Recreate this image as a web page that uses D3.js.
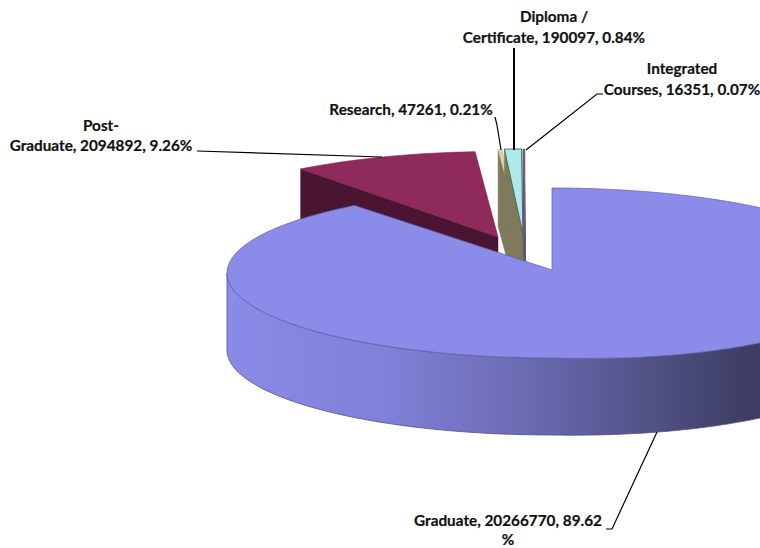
<!DOCTYPE html>
<html><head><meta charset="utf-8">
<script src="https://cdn.jsdelivr.net/npm/d3@7/dist/d3.min.js"></script>
<style>html,body{margin:0;padding:0;background:#fff}svg{display:block}text{font-family:Lato,"Open Sans",sans-serif;font-weight:700;font-size:15.3px;fill:#111;stroke:#111;stroke-width:0.2px}</style>
</head><body><svg id="c" width="760" height="548" viewBox="0 0 760 548"></svg>
<script>
const categories = ["Graduate","Post-Graduate","Research","Diploma / Certificate","Integrated Courses"];
const values = [20266770,2094892,47261,190097,16351];
const percents = ["89.62","9.26","0.21","0.84","0.07"];
const topColors = ["#8b8be9","#8e2a5c","#d9d2ac","#aee9e9","#6b6480"];
const wallColors = ["#6d6db8","#4a1530","#7e7a5b","#7e7a5b","#5f5870"];

const svg = d3.select("#c");
const rx = 325, ry = 85, depth = 77;
const pie = d3.pie().sort(null).value(d=>d).startAngle(0).endAngle(2*Math.PI);
const arcs = pie(values);
// layout: ellipse centre of each exploded slice and its apex
const centres = [{x:552,y:273,ay:270},{x:498,y:236.5,ay:237},{x:521,y:234,ay:234},{x:523,y:234,ay:234},{x:525,y:234,ay:234}];
// slight perspective swell of the near right quadrant of the main slice
const swell = (i,a,z)=> (i===0 && a>Math.PI/2 && a<Math.PI) ? 9*Math.sin(a)*(-Math.cos(a))*(z?0.6:1) : 0;
const P = (i,a,z=0)=>[centres[i].x+rx*Math.sin(a), centres[i].y-ry*Math.cos(a)+z+swell(i,a,z)];
const apex = (i,z=0)=>[centres[i].x, centres[i].ay+z];
const line = d3.line();
const arcPts = (i,a0,a1,z=0)=>{const n=Math.max(2,Math.ceil(Math.abs(a1-a0)*60));
  return d3.range(n+1).map(k=>P(i,a0+(a1-a0)*k/n,z));};

const defs = svg.append("defs");
const g = defs.append("linearGradient").attr("id","wall").attr("gradientUnits","userSpaceOnUse")
  .attr("x1",227).attr("x2",760).attr("y1",0).attr("y2",0);
[[0,"#8a8ae8"],[0.3,"#8080d8"],[0.55,"#6c6cb4"],[0.75,"#56568f"],[0.97,"#3e3e64"],[1,"#3e3e64"]]
  .forEach(([o,c])=>g.append("stop").attr("offset",o).attr("stop-color",c));

// exploded small slices, back to front
[1,2,3,4].forEach(i=>{
  const s=arcs[i];
  const wall=[P(i,s.startAngle),P(i,s.startAngle,depth),apex(i,depth),apex(i)];
  svg.append("path").attr("d",line(wall)+"Z").attr("fill",wallColors[i]).attr("stroke",wallColors[i]).attr("stroke-width",i==4?2:0.5);
  const top=[apex(i),...arcPts(i,s.startAngle,s.endAngle)];
  svg.append("path").attr("d",line(top)+"Z").attr("fill",topColors[i])
    .attr("stroke",i==3?"#3f5f58":i==1?"#7a2450":topColors[i]).attr("stroke-width",i==3?0.9:0.6);
});

// main slice
const m=arcs[0];
const wallPts=[...arcPts(0,Math.PI/2,3*Math.PI/2),...arcPts(0,3*Math.PI/2,Math.PI/2,depth)];
svg.append("path").attr("d",line(wallPts)+"Z").attr("fill","url(#wall)").attr("stroke","#50508a").attr("stroke-width",0.8);
svg.append("path").attr("d",line([apex(0),...arcPts(0,m.startAngle,m.endAngle)])+"Z")
  .attr("fill",topColors[0]).attr("stroke","#5f5fa6").attr("stroke-width",0.7);

// leader lines
const leaders=[
 [[606,529],[612,529],[657,432]],
 [[197,151],[382,157]],
 [[495,117],[497,125],[501,150]],
 [[514,48],[514,150]],
 [[603,94],[597,94],[526,150]]];
leaders.forEach((l,i)=>svg.append("path").attr("d",line(l)).attr("fill","none").attr("stroke","#000").attr("stroke-width",i==3?2:1.2));

// labels
const labelLines=[
 [`${categories[0]}, ${values[0]}, ${percents[0]}`,"%"],
 ["Post-",`Graduate, ${values[1]}, ${percents[1]}%`],
 [`${categories[2]}, ${values[2]}, ${percents[2]}%`],
 ["Diploma /",`Certificate, ${values[3]}, ${percents[3]}%`],
 ["Integrated",`Courses, ${values[4]}, ${percents[4]}%`]];
const labelPos=[[508,526,18.5],[101,131,20],[411,115,21],[554,22,21],[682,74,21]];
labelLines.forEach((ls,i)=>ls.forEach((t,k)=>svg.append("text").attr("x",labelPos[i][0])
  .attr("y",labelPos[i][1]+k*labelPos[i][2]).attr("text-anchor","middle").text(t)));
</script></body></html>
